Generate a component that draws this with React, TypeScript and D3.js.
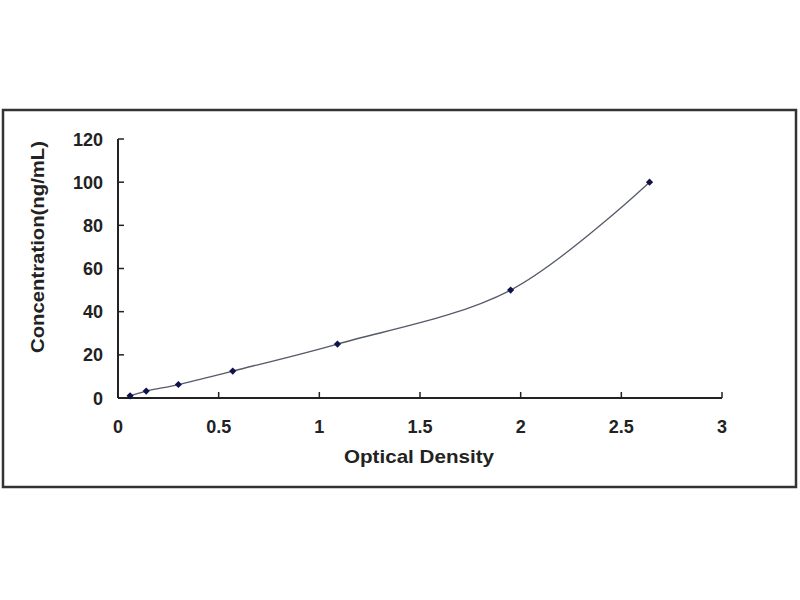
import React, { useRef, useEffect } from 'react';
import * as d3 from 'd3';

// standard curve: optical density vs concentration
const od = [0.06, 0.14, 0.3, 0.57, 1.09, 1.95, 2.64];
const conc = [1.0, 3.2, 6.25, 12.5, 25, 50, 100];
const xTicks = [0, 0.5, 1, 1.5, 2, 2.5, 3];
const yTicks = [0, 20, 40, 60, 80, 100, 120];

const W = 800;
const H = 600;

const App: React.FC = () => {
  const ref = useRef<SVGSVGElement>(null);

  useEffect(() => {
    const svg = d3.select(ref.current);
    svg.selectAll('*').remove();

    const x = d3.scaleLinear().domain([0, 3]).range([118, 722]);
    const y = d3.scaleLinear().domain([0, 120]).range([398, 139]);

    // outer frame
    svg.append('rect')
      .attr('x', 3).attr('y', 110)
      .attr('width', 793).attr('height', 377)
      .attr('fill', '#fff')
      .attr('stroke', '#333')
      .attr('stroke-width', 2.5);

    const font = 'Arial, "Liberation Sans", sans-serif';

    // y axis
    svg.append('line')
      .attr('x1', x(0)).attr('x2', x(0))
      .attr('y1', y(120)).attr('y2', y(0))
      .attr('stroke', '#222').attr('stroke-width', 2);
    svg.selectAll('.ytick')
      .data(yTicks)
      .enter().append('line')
      .attr('x1', x(0)).attr('x2', x(0) + 6)
      .attr('y1', d => y(d)).attr('y2', d => y(d))
      .attr('stroke', '#222').attr('stroke-width', 1.5);
    svg.selectAll('.ylab')
      .data(yTicks)
      .enter().append('text')
      .attr('x', 103)
      .attr('y', d => y(d) + 6.5)
      .attr('text-anchor', 'end')
      .attr('font-family', font)
      .attr('font-weight', 'bold')
      .attr('font-size', 18)
      .attr('fill', '#222')
      .text(d => d);

    // x axis
    svg.append('line')
      .attr('x1', x(0)).attr('x2', x(3))
      .attr('y1', y(0)).attr('y2', y(0))
      .attr('stroke', '#222').attr('stroke-width', 2);
    svg.selectAll('.xtick')
      .data(xTicks)
      .enter().append('line')
      .attr('x1', d => x(d)).attr('x2', d => x(d))
      .attr('y1', y(0)).attr('y2', y(0) - 6)
      .attr('stroke', '#222').attr('stroke-width', 1.5);
    svg.selectAll('.xlab')
      .data(xTicks)
      .enter().append('text')
      .attr('x', d => x(d))
      .attr('y', 433)
      .attr('text-anchor', 'middle')
      .attr('font-family', font)
      .attr('font-weight', 'bold')
      .attr('font-size', 18)
      .attr('fill', '#222')
      .text(d => d);

    // axis titles
    svg.append('text')
      .attr('x', 419).attr('y', 463)
      .attr('text-anchor', 'middle')
      .attr('font-family', font)
      .attr('font-weight', 'bold')
      .attr('font-size', 19)
      .attr('fill', '#222')
      .attr('textLength', 150)
      .attr('lengthAdjust', 'spacingAndGlyphs')
      .text('Optical Density');
    svg.append('text')
      .attr('transform', 'translate(44,247) rotate(-90)')
      .attr('text-anchor', 'middle')
      .attr('font-family', font)
      .attr('font-weight', 'bold')
      .attr('font-size', 18)
      .attr('fill', '#222')
      .attr('textLength', 212)
      .attr('lengthAdjust', 'spacingAndGlyphs')
      .text('Concentration(ng/mL)');

    // fitted curve
    const pts = od.map((d, i) => [d, conc[i]] as [number, number]);
    const line = d3.line<[number, number]>()
      .x(d => x(d[0]))
      .y(d => y(d[1]))
      .curve(d3.curveCatmullRom.alpha(0.5));
    svg.append('path')
      .datum(pts)
      .attr('fill', 'none')
      .attr('stroke', '#555a6a')
      .attr('stroke-width', 1.3)
      .attr('d', line);

    // markers: square turned 45 degrees
    const marker = d3.symbol().type(d3.symbolSquare).size(26);
    svg.selectAll('.pt')
      .data(pts)
      .enter().append('path')
      .attr('transform', d => `translate(${x(d[0])},${y(d[1])}) rotate(45)`)
      .attr('d', marker)
      .attr('fill', '#10124a');
  }, []);

  return (
    <svg ref={ref} width={W} height={H} style={{ display: 'block', position: 'absolute', left: 0, top: 0 }}></svg>
  );
};

export default App;
